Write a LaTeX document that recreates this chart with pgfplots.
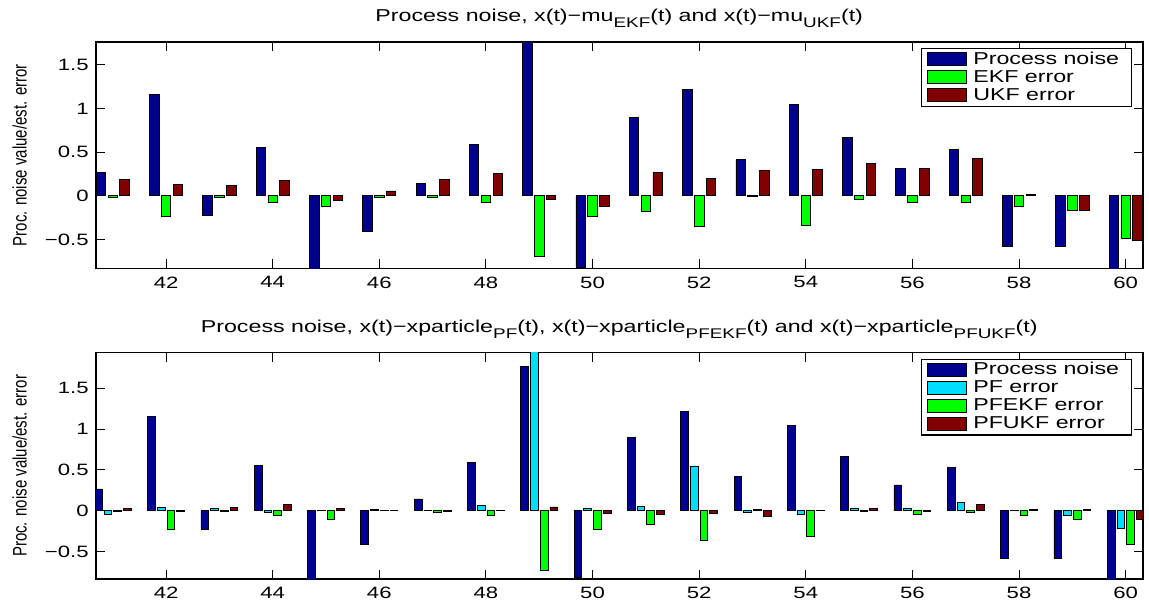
\documentclass[border=0pt]{standalone}
\usepackage{fontspec}
\setmainfont{Liberation Sans}[FakeStretch=1.35]
\newfontfamily\labelfont{Liberation Sans}
\usepackage{pgfplots}
\pgfplotsset{compat=1.18}
\usepackage{pgfplotstable}

\definecolor{noiseblue}{rgb}{0,0,0.56}
\definecolor{ekfgreen}{rgb}{0,1,0}
\definecolor{ukfred}{rgb}{0.5,0,0}
\definecolor{pfcyan}{rgb}{0,0.87,1}

\newcommand\sub[1]{\raisebox{-0.6ex}{\fontsize{7}{8}\selectfont #1}}

% time step, process noise and estimation errors of each filter
\pgfplotstableread{
x  noise   ekf     ukf     pf      pfekf   pfukf
41  0.267  -0.020   0.187  -0.049  -0.012   0.033
42  1.160  -0.233   0.134   0.037  -0.232  -0.012
43 -0.229  -0.015   0.118   0.028  -0.010   0.037
44  0.550  -0.073   0.179  -0.018  -0.060   0.075
45 -0.950  -0.115  -0.053   0.002  -0.100   0.025
46 -0.412  -0.023   0.057   0.018   0.003   0.003
47  0.145  -0.023   0.190   0.003  -0.016  -0.012
48  0.588  -0.076   0.256   0.066  -0.060   0.003
49  1.770  -0.695  -0.038   2.000  -0.724   0.047
50 -0.815  -0.240  -0.126   0.030  -0.225  -0.028
51  0.897  -0.179   0.271   0.049  -0.163  -0.045
52  1.218  -0.355   0.202   0.549  -0.366  -0.037
53  0.416  -0.008   0.290  -0.024   0.012  -0.065
54  1.046  -0.340   0.302  -0.045  -0.317   0.004
55  0.668  -0.046   0.370   0.028  -0.012   0.024
56  0.317  -0.073   0.317   0.024  -0.049  -0.010
57  0.531  -0.076   0.427   0.098  -0.020   0.073
58 -0.584  -0.126   0.019   0.003  -0.053   0.016
59 -0.584  -0.172  -0.164  -0.053  -0.110   0.020
60 -0.900  -0.489  -0.511  -0.211  -0.415  -0.102
}\errtable

\pgfplotsset{
  errpanel/.style={
    scale only axis, width=523.5pt, height=113.25pt,
    xmin=40.68, xmax=60.32,
    xtick={42,44,...,60},
    ytick={-0.5,0,0.5,1,1.5},
    yticklabels={−0.5,0,0.5,1,1.5},
    tick align=inside, tick pos=both,
    major tick length=4.5pt,
    tick style={line width=0.5pt, black},
    axis line style={line width=0.8pt},
    /pgf/number format/assume math mode=true,
    ticklabel style={font=\fontsize{8.2}{9}\selectfont},
    xticklabel style={yshift=-0.5pt},
    ylabel={Proc. noise value/est. error},
    ylabel style={at={(rel axis cs:0,0.5)}, anchor=center, yshift=38pt,
      yscale=1.3, font=\labelfont\fontsize{7.5}{9}\selectfont},
    title style={at={(0.5,1)}, anchor=base, yshift=4pt,
      font=\fontsize{8.6}{10}\selectfont},
    legend style={at={(0.9895,0.9735)}, anchor=north east, draw=black,
      line width=0.6pt, font=\fontsize{8.6}{10}\selectfont,
      inner xsep=3pt, inner ysep=1.5pt, row sep=1.2pt,
      nodes={inner sep=0pt, inner xsep=3pt, text height=6.3pt, text depth=1.5pt}},
    legend cell align=left,
    legend image code/.code={\draw[##1,/tikz/.cd,line width=0.4pt]
      (0pt,-3.25pt) rectangle (19.5pt,3.25pt);},
  },
  errbar/.style={ybar, draw=black, line width=0.4pt},
}

\begin{document}
\begin{tikzpicture}
\begin{axis}[errpanel, name=top, at={(0,0)}, anchor=north west,
    ymin=-0.832, ymax=1.763,
    title={Process noise, x(t)−mu\sub{EKF}(t) and x(t)−mu\sub{UKF}(t)}]
  \addplot[errbar, fill=noiseblue, bar width=0.178, bar shift=-0.222]
    table[x=x, y=noise] {\errtable};
  \addlegendentry{Process noise}
  \addplot[errbar, fill=ekfgreen, bar width=0.178, bar shift=0]
    table[x=x, y=ekf] {\errtable};
  \addlegendentry{EKF error}
  \addplot[errbar, fill=ukfred, bar width=0.178, bar shift=0.222]
    table[x=x, y=ukf] {\errtable};
  \addlegendentry{UKF error}
\end{axis}

\begin{axis}[errpanel, name=bot, at={(0,-155.35pt)}, anchor=north west,
    ymin=-0.837, ymax=1.935,
    title={Process noise, x(t)−xparticle\sub{PF}(t), x(t)−xparticle\sub{PFEKF}(t) and x(t)−xparticle\sub{PFUKF}(t)}]
  \addplot[errbar, fill=noiseblue, bar width=0.145, bar shift=-0.273]
    table[x=x, y=noise] {\errtable};
  \addlegendentry{Process noise}
  \addplot[errbar, fill=pfcyan, bar width=0.145, bar shift=-0.091]
    table[x=x, y=pf] {\errtable};
  \addlegendentry{PF error}
  \addplot[errbar, fill=ekfgreen, bar width=0.145, bar shift=0.091]
    table[x=x, y=pfekf] {\errtable};
  \addlegendentry{PFEKF error}
  \addplot[errbar, fill=ukfred, bar width=0.145, bar shift=0.273]
    table[x=x, y=pfukf] {\errtable};
  \addlegendentry{PFUKF error}
\end{axis}

\pgfresetboundingbox
\useasboundingbox ([xshift=-47.85pt, yshift=21pt]top.north west)
  rectangle ([xshift=3.15pt, yshift=-11pt]bot.south east);
\end{tikzpicture}
\end{document}
